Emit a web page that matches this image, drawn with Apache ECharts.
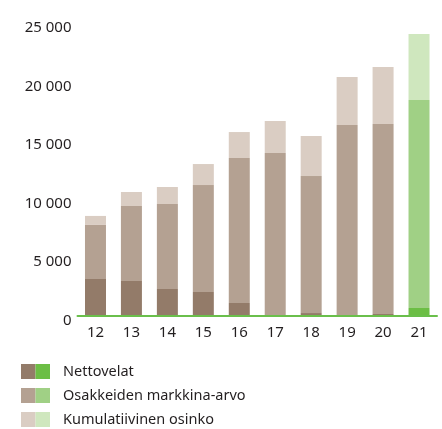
<!DOCTYPE html>
<html>
<head>
<meta charset="utf-8">
<script src="https://cdn.jsdelivr.net/npm/echarts@6/dist/echarts.min.js"></script>
<style>
  html, body { margin: 0; padding: 0; background: #fff; }
  #main { width: 442px; height: 429px; }
</style>
</head>
<body>
<div id="main"></div>
<script>
var years = ['12', '13', '14', '15', '16', '17', '18', '19', '20', '21'];
var nettovelat = [3120, 2950, 2270, 2010, 1070, -100, 210, -555, 130, 640];
var markkinaArvo = [4620, 6410, 7260, 9140, 12390, 13890, 11710, 16280, 16240, 17780];
var osinko = [770, 1195, 1455, 1795, 2220, 2735, 3420, 4100, 4870, 5640];
var yTicks = [0, 5000, 10000, 15000, 20000, 25000];

var brown = ['#937b69', '#b4a192', '#dacdc3'];
var green = ['#6cbe45', '#a0d085', '#cfe7be'];

// viimeinen vuosi vihreällä
function withLast(values, color) {
    return values.map(function (v, i) {
        if (i == values.length - 1) {
            return { value: v, itemStyle: { color: color } };
        }
        return v;
    });
}

function swatch(a, b) {
    var svg = '<svg xmlns="http://www.w3.org/2000/svg" width="29" height="15">' +
        '<rect x="0" y="0" width="14.5" height="15" fill="' + a + '"/>' +
        '<rect x="14.5" y="0" width="14.5" height="15" fill="' + b + '"/></svg>';
    return 'image://data:image/svg+xml;charset=utf-8,' + encodeURIComponent(svg);
}

var names = ['Nettovelat', 'Osakkeiden markkina-arvo', 'Kumulatiivinen osinko'];
var font = '"Noto Sans", sans-serif';

var myChart = echarts.init(document.getElementById('main'));
var option = {
    animation: false,
    grid: {
        left: 77.5,
        right: 5,
        top: 23,
        bottom: 429 - 315.5
    },
    legend: {
        orient: 'vertical',
        left: 21,
        top: 364,
        height: 80,
        padding: 0,
        itemWidth: 29,
        itemHeight: 15,
        itemGap: 9,
        textStyle: { color: '#231f20', fontSize: 14.5, fontFamily: font, padding: [0, 0, 0, 8] },
        data: [
            { name: names[0], icon: swatch(brown[0], green[0]) },
            { name: names[1], icon: swatch(brown[1], green[1]) },
            { name: names[2], icon: swatch(brown[2], green[2]) }
        ]
    },
    xAxis: {
        type: 'category',
        data: years,
        z: 10,
        axisLine: { lineStyle: { color: '#6abf4b', width: 2 } },
        axisTick: { show: false },
        axisLabel: { color: '#231f20', fontSize: 15, fontFamily: font, margin: 10 }
    },
    yAxis: {
        type: 'value',
        min: yTicks[0],
        max: yTicks[yTicks.length - 1],
        interval: 5000,
        splitLine: { show: false },
        axisLine: { show: false },
        axisTick: { show: false },
        axisLabel: {
            color: '#231f20',
            fontSize: 15,
            fontFamily: font,
            margin: 6,
            verticalAlign: 'top',
            lineHeight: 10,
            formatter: function (v) {
                return String(v).replace(/\B(?=(\d{3})+(?!\d))/g, ' ');
            }
        }
    },
    series: [{
        name: names[0],
        type: 'bar',
        stack: 'arvo',
        barWidth: 21,
        itemStyle: { color: brown[0] },
        data: withLast(nettovelat, green[0])
    }, {
        name: names[1],
        type: 'bar',
        stack: 'arvo',
        barWidth: 21,
        itemStyle: { color: brown[1] },
        data: withLast(markkinaArvo, green[1])
    }, {
        name: names[2],
        type: 'bar',
        stack: 'arvo',
        barWidth: 21,
        itemStyle: { color: brown[2] },
        data: withLast(osinko, green[2])
    }]
};
myChart.setOption(option);
</script>
</body>
</html>
